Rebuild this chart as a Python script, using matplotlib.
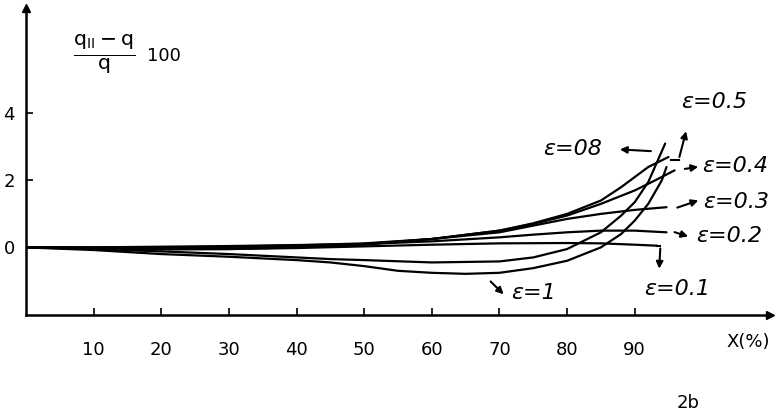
import matplotlib.pyplot as plt

plt.rcParams['font.family'] = ['DejaVu Sans']
plt.rcParams['mathtext.fontset'] = 'dejavusans'

# Кривые
x_e01 = [0, 10, 20, 30, 40, 50, 60, 70, 80, 85, 90, 93.3]
y_e01 = [0, -0.03, -0.05, -0.05, -0.02, 0.03, 0.08, 0.12, 0.13, 0.12, 0.08, 0.05]

x_e02 = [0, 10, 20, 30, 40, 50, 60, 70, 75, 80, 85, 90, 94.7]
y_e02 = [0, 0, 0.02, 0.04, 0.07, 0.1, 0.18, 0.3, 0.38, 0.45, 0.5, 0.5, 0.45]

x_e03 = [0, 10, 20, 30, 40, 50, 60, 70, 75, 80, 85, 90, 94.7]
y_e03 = [0, 0, 0, 0.02, 0.06, 0.12, 0.25, 0.45, 0.65, 0.85, 1.0, 1.12, 1.2]

x_e04 = [0, 10, 20, 30, 40, 50, 60, 70, 75, 80, 85, 90, 93, 95.9]
y_e04 = [0, -0.02, -0.03, -0.02, 0.02, 0.1, 0.25, 0.5, 0.7, 0.95, 1.3, 1.7, 2.0, 2.3]

x_e05 = [0, 10, 20, 30, 40, 50, 60, 70, 75, 80, 85, 88, 90, 92, 95]
y_e05 = [0, -0.03, -0.06, -0.05, 0.0, 0.08, 0.25, 0.5, 0.72, 1.0, 1.4, 1.8, 2.1, 2.4, 2.7]

x_e08 = [0, 10, 20, 30, 40, 45, 50, 60, 70, 75, 80, 85, 88, 90, 92, 94.5]
y_e08 = [0, -0.05, -0.12, -0.2, -0.3, -0.35, -0.38, -0.45, -0.42, -0.3, -0.05, 0.45, 0.95, 1.35, 1.95, 3.1]

x_e1 = [0, 10, 20, 30, 40, 45, 50, 55, 60, 65, 70, 75, 80, 85, 88, 90, 92, 94, 94.7]
y_e1 = [0, -0.08, -0.2, -0.28, -0.38, -0.45, -0.56, -0.7, -0.76, -0.79, -0.76, -0.62, -0.4, 0.0, 0.4, 0.8, 1.3, 2.0, 2.4]

curves = [(x_e01, y_e01), (x_e02, y_e02), (x_e03, y_e03), (x_e04, y_e04),
          (x_e05, y_e05), (x_e08, y_e08), (x_e1, y_e1)]

x_ticks = [10, 20, 30, 40, 50, 60, 70, 80, 90]
y_ticks = [0, 2, 4]

fig = plt.figure(figsize=(7.75, 4.17), dpi=100)
ax = fig.add_axes([26 / 775, 1 - 315 / 417, 744 / 775, 307 / 417])

for xs, ys in curves:
    ax.plot(xs, ys, color='black', lw=1.6, solid_capstyle='round')

ax.set_xlim(0, 110)
ax.set_ylim(-2.02, 7.15)

for s in ['top', 'right']:
    ax.spines[s].set_visible(False)
for s in ['left', 'bottom']:
    ax.spines[s].set_linewidth(1.8)

# стрелки осей
ax.plot(1, 0, '>', color='black', ms=6, transform=ax.transAxes, clip_on=False)
ax.plot(0, 1, '^', color='black', ms=6, transform=ax.transAxes, clip_on=False)

ax.set_xticks(x_ticks)
ax.set_xticklabels([str(t) for t in x_ticks])
ax.set_yticks(y_ticks)
ax.set_yticklabels([str(t) for t in y_ticks])
ax.tick_params(axis='x', direction='in', length=5, width=1.2, pad=19, labelsize=13)
ax.tick_params(axis='y', direction='in', length=5, width=1.2, pad=8, labelsize=13)

# подписи осей
fig.text(770 / 775, 1 - 342 / 417, 'X(%)', fontsize=13, ha='right', va='center')
ax.text(11.6, 5.78, r'$\frac{\mathrm{q_{II}-q}}{\mathrm{q}}$', fontsize=21, ha='center', va='center')
ax.text(20.4, 5.72, '100', fontsize=13, ha='center', va='center')
fig.text(688 / 775, 1 - 403 / 417, '2b', fontsize=13, ha='center', va='center')

# метки кривых
lab = dict(fontsize=16, style='italic', ha='center', va='center')
ax.text(101.7, 4.33, 'ε=0.5', **lab)
ax.text(80.8, 2.93, 'ε=08', **lab)
ax.text(104.8, 2.42, 'ε=0.4', **lab)
ax.text(105.0, 1.37, 'ε=0.3', **lab)
ax.text(104.0, 0.33, 'ε=0.2', **lab)
ax.text(96.3, -1.25, 'ε=0.1', **lab)
ax.text(75.0, -1.37, 'ε=1', **lab)

arr = dict(arrowstyle='-|>', color='black', lw=1.5, mutation_scale=10)
ax.annotate('', xy=(87.4, 2.93), xytext=(92.8, 2.87), arrowprops=arr)
ax.plot([95.3, 96.5], [2.62, 2.62], color='black', lw=1.5)
ax.annotate('', xy=(97.7, 3.55), xytext=(96.5, 2.62), arrowprops=arr)
ax.annotate('', xy=(99.8, 2.42), xytext=(97.0, 2.33), arrowprops=arr)
ax.annotate('', xy=(99.8, 1.43), xytext=(95.9, 1.16), arrowprops=arr)
ax.annotate('', xy=(98.3, 0.3), xytext=(95.5, 0.48), arrowprops=arr)
ax.plot([93.3, 93.8], [0.05, 0.05], color='black', lw=1.5)
ax.annotate('', xy=(93.6, -0.72), xytext=(93.8, 0.05), arrowprops=arr)
ax.annotate('', xy=(70.9, -1.46), xytext=(68.4, -0.96), arrowprops=arr)

fig.savefig('out.png', dpi=100)
